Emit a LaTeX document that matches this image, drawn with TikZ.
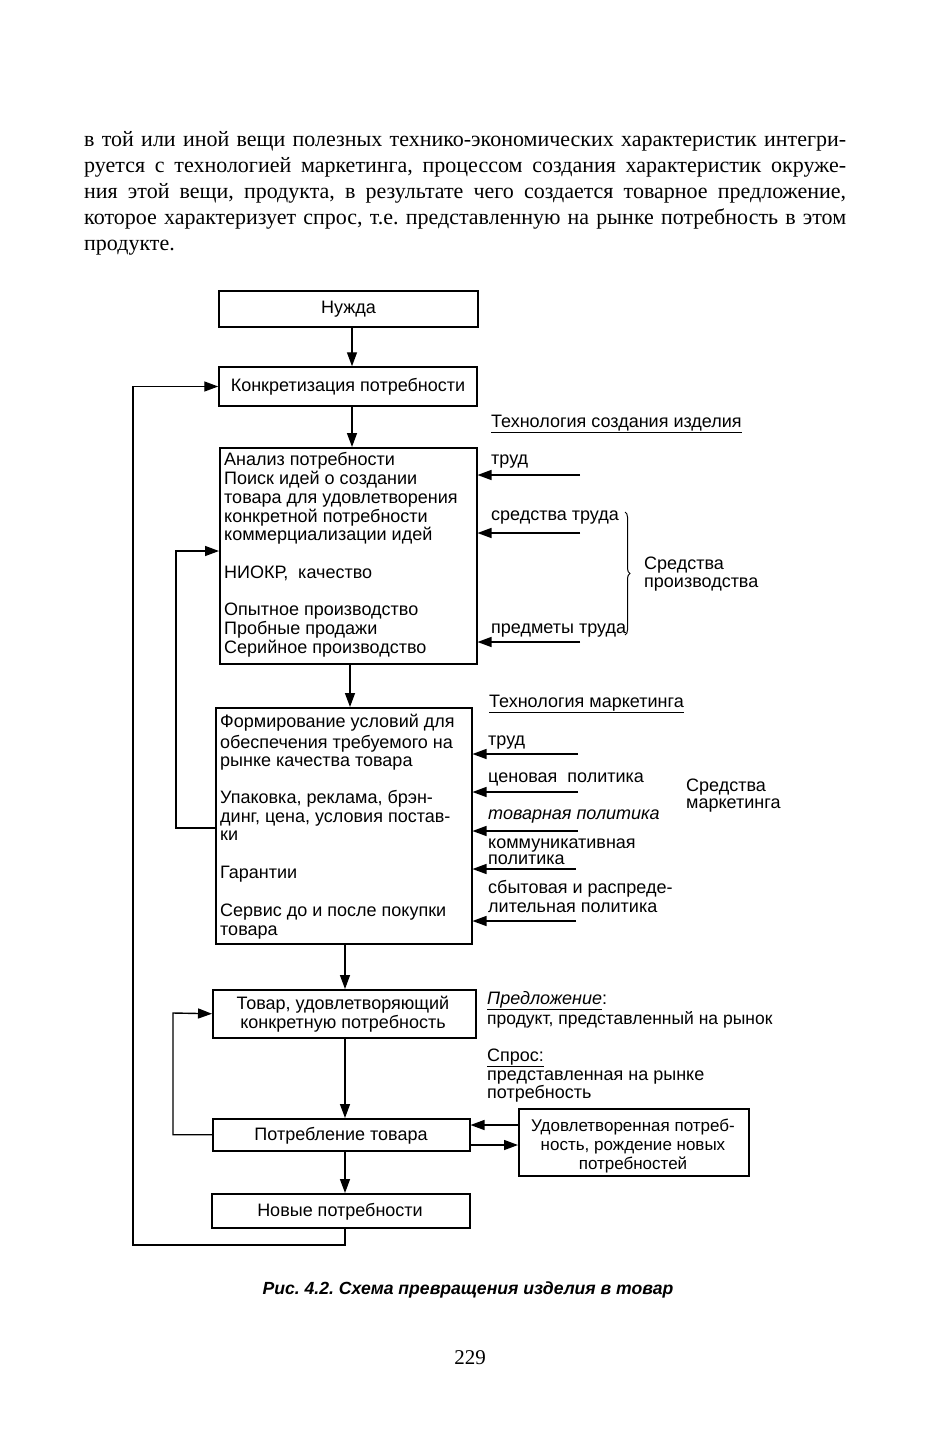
\documentclass[tikz,border=0pt]{standalone}
\usepackage{fontspec}
\setmainfont{Liberation Serif}
\setsansfont{Liberation Sans}
\usetikzlibrary{arrows.meta,decorations.pathreplacing}
\begin{document}
\frenchspacing
\begin{tikzpicture}[x=1pt,y=-1pt,
  box/.style={draw,line width=1.5pt,inner sep=0pt},
  arr/.style={line width=1.4pt,-{Triangle[length=14pt,width=10pt]}},
  ln/.style={line width=1.3pt},
  df/.style={font=\sffamily\fontsize{18}{18.7}\selectfont},
  lab/.style={df,inner sep=0pt,anchor=base west},
  ctr/.style={df,inner sep=0pt,anchor=base},
  sctr/.style={font=\sffamily\fontsize{17}{18.7}\selectfont,inner sep=0pt,anchor=base},
  body/.style={font=\fontsize{22}{26}\selectfont,inner sep=0pt,anchor=base west}
]
\useasboundingbox (0,0) rectangle (934,1440);

% ---------- body text ----------
\node[body] (p1) at (84,146) {\makebox[762pt][s]{в той или иной вещи полезных технико-экономических характеристик интегри-}};
\node[body] (p2) at (84,172) {\makebox[762pt][s]{руется с технологией маркетинга, процессом создания характеристик окруже-}};
\node[body] (p3) at (84,198) {\makebox[762pt][s]{ния этой вещи, продукта, в результате чего создается товарное предложение,}};
\node[body] (p4) at (84,224) {\makebox[762pt][s]{которое характеризует спрос, т.е. представленную на рынке потребность в этом}};
\node[body] (p5) at (84,250) {продукте.};

% ---------- boxes ----------
\node[box,df,minimum width=259pt,minimum height=36pt] (nuzhda) at (348.5,309) {Нужда};
\node[box,df,minimum width=258pt,minimum height=39pt] (konkr) at (348,386.5) {Конкретизация потребности};
\node[box,minimum width=257pt,minimum height=216pt,anchor=north west] (analiz) at (219,447) {};
\node[box,minimum width=256pt,minimum height=236pt,anchor=north west] (market) at (215,707) {};
\node[box,minimum width=263pt,minimum height=48pt,anchor=north west] (tovar) at (212,989) {};
\node[box,minimum width=257pt,minimum height=32pt,anchor=north west] (potr) at (212,1118) {};
\node[box,minimum width=258pt,minimum height=34pt,anchor=north west] (novye) at (211,1193) {};
\node[box,minimum width=230pt,minimum height=67pt,anchor=north west] (udov) at (518,1108) {};

% box texts
\node[ctr] (tv1) at (343,1009) {Товар, удовлетворяющий};
\node[ctr] (tv2) at (343,1028) {конкретную потребность};
\node[ctr] (pt1) at (341,1140) {Потребление товара};
\node[ctr] (nv1) at (340,1216) {Новые потребности};
\node[sctr] (ud1) at (633,1131) {Удовлетворенная потреб-};
\node[sctr] (ud2) at (633,1150) {ность, рождение новых};
\node[sctr] (ud3) at (633,1169) {потребностей};

% analysis box lines
\node[lab] (a1) at (224,465) {Анализ потребности};
\node[lab] (a2) at (224,484) {Поиск идей о создании};
\node[lab] (a3) at (224,503) {товара для удовлетворения};
\node[lab] (a4) at (224,522) {конкретной потребности};
\node[lab] (a5) at (224,540) {коммерциализации идей};
\node[lab] (a6) at (224,578) {НИОКР,\ \ качество};
\node[lab] (a7) at (224,615) {Опытное производство};
\node[lab] (a8) at (224,634) {Пробные продажи};
\node[lab] (a9) at (224,653) {Серийное производство};

% marketing box lines
\node[lab] (m1) at (220,727) {Формирование условий для};
\node[lab] (m2) at (220,748) {обеспечения требуемого на};
\node[lab] (m3) at (220,766) {рынке качества товара};
\node[lab] (m4) at (220,803) {Упаковка, реклама, брэн-};
\node[lab] (m5) at (220,822) {динг, цена, условия постав-};
\node[lab] (m6) at (220,840) {ки};
\node[lab] (m7) at (220,878) {Гарантии};
\node[lab] (m8) at (220,916) {Сервис до и после покупки};
\node[lab] (m9) at (220,935) {товара};

% right labels (production)
\node[lab] (tsi) at (491,427) {\underline{Технология создания изделия}};
\node[lab] (r1) at (491,464) {труд};
\node[lab] (r2) at (491,520) {средства труда};
\node[lab] (r3) at (491,633) {предметы труда};
\node[lab] (sp1) at (644,569) {Средства};
\node[lab] (sp2) at (644,587) {производства};

% right labels (marketing)
\node[lab] (tm) at (489,707) {\underline{Технология маркетинга}};
\node[lab] (q1) at (488,745) {труд};
\node[lab] (q2) at (488,782) {ценовая\ \ политика};
\node[lab] (q3) at (488,819) {\itshape товарная политика};
\node[lab] (q4) at (488,848) {коммуникативная};
\node[lab] (q5) at (488,864) {политика};
\node[lab] (q6) at (488,893) {сбытовая и распреде-};
\node[lab] (q7) at (488,912) {лительная политика};
\node[lab] (sm1) at (686,791) {Средства};
\node[lab] (sm2) at (686,808) {маркетинга};

% lower right labels
\node[lab] (pr1) at (487,1004) {\underline{\itshape Предложение}:};
\node[lab,font=\sffamily\fontsize{17.5}{18.7}\selectfont] (pr2) at (487,1024) {продукт, представленный на рынок};
\node[lab] (sr1) at (487,1061) {\underline{Спрос:}};
\node[lab] (sr2) at (487,1080) {представленная на рынке};
\node[lab] (sr3) at (487,1098) {потребность};

% caption, page number
\node[font=\sffamily\bfseries\itshape\fontsize{17.6}{20}\selectfont,inner sep=0pt,anchor=base] (cap) at (468,1294) {Рис. 4.2. Схема превращения изделия в товар};
\node[font=\fontsize{21}{24}\selectfont,inner sep=0pt,anchor=base] (pg) at (470,1364) {229};

% ---------- main flow ----------
\coordinate (c1) at (352,0);
\coordinate (c2) at (350,0);
\coordinate (c3) at (345,0);
\draw[arr] (nuzhda.south -| c1) -- (konkr.north -| c1);
\draw[arr] (konkr.south -| c1) -- (analiz.north -| c1);
\draw[arr] (analiz.south -| c2) -- (market.north -| c2);
\draw[arr] (market.south -| c3) -- (tovar.north -| c3);
\draw[arr] (tovar.south -| c3) -- (potr.north -| c3);
\draw[arr] (potr.south -| c3) -- (novye.north -| c3);

% ---------- feedback loops ----------
\coordinate (la) at (133,1245);
\draw[arr] (novye.south -| c3) |- (la) |- (konkr.west);
\coordinate (lb) at (176,551);
\draw[arr] (market.west |- 0,828) -| (lb) -- (lb -| analiz.west);
\coordinate (lc) at (173,1013);
\draw[arr] (potr.west) -| (lc) -- (tovar.west);

% ---------- satisfied need ----------
\coordinate (u1) at (0,1125);
\coordinate (u2) at (0,1145);
\draw[arr] (udov.west |- u1) -- (potr.east |- u1);
\draw[arr] (potr.east |- u2) -- (udov.west |- u2);

% ---------- production inputs ----------
\coordinate (i1) at (580,475);
\coordinate (i2) at (580,533);
\coordinate (i3) at (580,642);
\foreach \c in {i1,i2,i3} \draw[arr] (\c) -- (\c -| analiz.east);
\draw[ln,line width=1pt,decorate,decoration={brace,amplitude=5pt}] (625,512) -- (625,635);

% ---------- marketing inputs ----------
\coordinate (k1) at (578,754);
\coordinate (k2) at (578,792);
\coordinate (k3) at (578,831);
\coordinate (k4) at (576,869);
\coordinate (k5) at (576,921);
\foreach \c in {k1,k2,k3,k4,k5} \draw[arr] (\c) -- (\c -| market.east);
\end{tikzpicture}
\end{document}
